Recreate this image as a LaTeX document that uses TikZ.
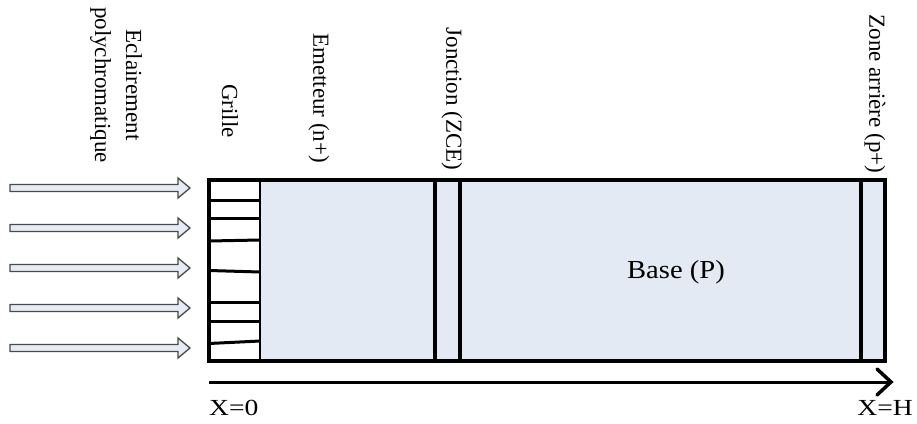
\documentclass[tikz,border=0pt]{standalone}
\usepackage{fontspec}
\setmainfont{Liberation Serif}
\definecolor{cellfill}{HTML}{E4EAF4}
\definecolor{arrowfill}{HTML}{E6ECF6}
\definecolor{arrowdraw}{HTML}{4A4A4A}
\begin{document}
\begin{tikzpicture}[x=1pt,y=-1pt,
  lbl/.style={inner sep=0pt,font=\fontsize{23}{31}\selectfont,rotate=-90,align=center},
  hlbl/.style={inner sep=0pt,font=\fontsize{23}{28}\selectfont,xscale=1.2},
  thick4/.style={line width=4pt},
  gridline/.style={line width=3pt},
  lightarrow/.style={fill=arrowfill,draw=arrowdraw,line width=1.3pt,line join=miter}]
\useasboundingbox (0,0) rectangle (917,423);
% incoming light arrows
\foreach \c in {188,228,268,308,348}{
  \draw[lightarrow] (10,\c-3.5) -- (178,\c-3.5) -- (178,\c-10) -- (190,\c) -- (178,\c+10) -- (178,\c+3.5) -- (10,\c+3.5) -- cycle;
}
% cell body
\coordinate (tl) at (209,180);
\coordinate (br) at (885,361);
\fill[white] (209,180) rectangle (260,361);
\fill[cellfill] (260,180) rectangle (885,361);
% grid lines
\draw[gridline] (209,200) -- (260,200);
\draw[gridline] (209,218) -- (260,218);
\draw[gridline] (209,241) -- (260,240);
\draw[gridline] (209,270.5) -- (260,272);
\draw[gridline] (209,302.5) -- (260,302.5);
\draw[gridline] (209,321.5) -- (260,321.5);
\draw[gridline] (209,343.5) -- (260,341);
\draw[line width=2pt] (260,180) -- (260,361);
% layer boundaries
\draw[thick4] (435,180) -- (435,361);
\draw[thick4] (460,180) -- (460,361);
\draw[thick4] (861,180) -- (861,361);
\draw[thick4] (tl) rectangle (br);
% axis
\coordinate (ax0) at (209,382);
\coordinate (axH) at (891,382);
\draw[line width=3pt] (ax0) -- (axH);
\draw[line width=3.5pt,line cap=round] (877,369) -- (axH) -- (877,395);
% labels
\node[lbl] (ecl) at (116,85) {Eclairement\\polychromatique};
\node[lbl] (gri) at (230,111) {Grille};
\node[lbl] (emt) at (319,98) {Emetteur (n+)};
\node[lbl] (jon) at (452,99) {Jonction (ZCE)};
\node[lbl] (zar) at (875,94) {Zone arrière (p+)};
\node[inner sep=0pt,font=\fontsize{26}{30}\selectfont,xscale=1.1] (base) at (676,272) {Base (P)};
\node[hlbl,anchor=base west] (x0) at (209,415) {X=0};
\node[hlbl,anchor=base east] (xh) at (913,415) {X=H};
\end{tikzpicture}
\end{document}
